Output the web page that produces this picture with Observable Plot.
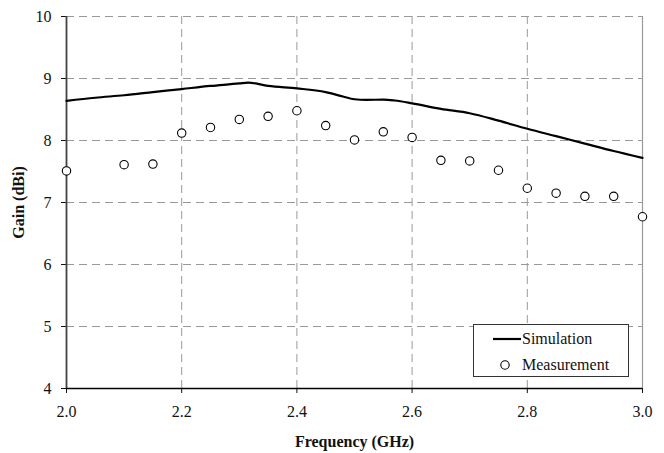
<!DOCTYPE html>
<html>
<head>
<meta charset="utf-8">
<script src="https://cdn.jsdelivr.net/npm/d3@7"></script>
<script src="https://cdn.jsdelivr.net/npm/@observablehq/plot@0.6"></script>
<style>
  html, body { margin: 0; padding: 0; background: #fff; }
  #wrap { position: relative; width: 664px; height: 453px; font-family: "Liberation Serif", "DejaVu Serif", serif; }
  #wrap svg text { font-family: "Liberation Serif", "DejaVu Serif", serif; }
  #legend { position: absolute; left: 473px; top: 324px; width: 156px; height: 53px; border: 1px solid #333; background: #fff; box-sizing: border-box; font-size: 16px; color: #111; }
  #legend .row { position: absolute; left: 0; height: 20px; display: flex; align-items: center; }
  #legend svg { display: block; }
</style>
</head>
<body>
<div id="wrap"></div>
<script>
// Measurement points (GHz, dBi)
const measFreq = [2.0, 2.1, 2.15, 2.2, 2.25, 2.3, 2.35, 2.4, 2.45, 2.5, 2.55, 2.6, 2.65, 2.7, 2.75, 2.8, 2.85, 2.9, 2.95, 3.0];
const measGain = [7.51, 7.61, 7.62, 8.12, 8.21, 8.34, 8.39, 8.48, 8.24, 8.01, 8.14, 8.05, 7.68, 7.67, 7.52, 7.23, 7.15, 7.10, 7.10, 6.77];
// Simulation curve
const simFreq = [2.0, 2.05, 2.1, 2.15, 2.2, 2.25, 2.3, 2.315, 2.35, 2.4, 2.45, 2.48, 2.5, 2.52, 2.55, 2.57, 2.6, 2.65, 2.7, 2.75, 2.8, 2.85, 2.9, 2.95, 3.0];
const simGain = [8.64, 8.69, 8.73, 8.78, 8.83, 8.88, 8.92, 8.935, 8.88, 8.84, 8.78, 8.71, 8.665, 8.655, 8.66, 8.645, 8.60, 8.51, 8.44, 8.32, 8.19, 8.07, 7.95, 7.83, 7.72];
// Ticks
const xTicks = [2.0, 2.2, 2.4, 2.6, 2.8, 3.0];
const yTicks = [4, 5, 6, 7, 8, 9, 10];
const seriesNames = ["Simulation", "Measurement"];

const meas = measFreq.map((f, i) => ({f, g: measGain[i]}));
const sim = simFreq.map((f, i) => ({f, g: simGain[i]}));

const chart = Plot.plot({
  width: 664,
  height: 453,
  marginLeft: 66,
  marginRight: 22,
  marginTop: 16,
  marginBottom: 65,
  style: "font-family: 'Liberation Serif', 'DejaVu Serif', serif; font-size: 16px; color: #111; background: #fff;",
  x: { domain: [2, 3] },
  y: { domain: [4, 10] },
  marks: [
    Plot.gridX(xTicks.filter(d => d > 2 && d < 3), { stroke: "#999", strokeOpacity: 1, strokeDasharray: "8,5", strokeWidth: 1 }),
    Plot.gridY(yTicks.filter(d => d > 4), { stroke: "#999", strokeOpacity: 1, strokeDasharray: "8,5", strokeWidth: 1 }),
    Plot.ruleX([3], { stroke: "#999", strokeWidth: 1.2 }),
    Plot.axisX({ ticks: xTicks, tickFormat: d3.format(".1f"), tickSize: 5, tickPadding: 12, fontSize: 16,
      label: "Frequency (GHz)", labelAnchor: "center", labelArrow: "none", labelOffset: 58 }),
    Plot.axisY({ ticks: yTicks, tickFormat: d3.format("d"), tickSize: 5, tickPadding: 10, fontSize: 16,
      label: "Gain (dBi)", labelAnchor: "center", labelArrow: "none", labelOffset: 54 }),
    Plot.ruleX([2], { stroke: "#444", strokeWidth: 1.8 }),
    Plot.ruleY([4], { stroke: "#000", strokeWidth: 1.5 }),
    Plot.line(sim, { x: "f", y: "g", stroke: "#000", strokeWidth: 2.2, curve: "monotone-x" }),
    Plot.dot(meas, { x: "f", y: "g", r: 4.2, stroke: "#000", strokeWidth: 1.1, fill: "#fff" })
  ]
});

// bold axis titles
d3.select(chart).selectAll("g[aria-label='x-axis label'] text, g[aria-label='y-axis label'] text")
  .style("font-weight", "bold").style("font-size", "16px");

const wrap = document.getElementById("wrap");
wrap.appendChild(chart);

const legend = document.createElement("div");
legend.id = "legend";
legend.innerHTML =
  `<div class="row" style="top:4px;left:19px"><svg width="29" height="20"><line x1="0" y1="10" x2="28" y2="10" stroke="#000" stroke-width="2.2"/></svg><span>${seriesNames[0]}</span></div>` +
  `<div class="row" style="top:30px;left:24px"><svg width="24" height="20"><circle cx="7" cy="10" r="4.2" fill="#fff" stroke="#000" stroke-width="1.1"/></svg><span>${seriesNames[1]}</span></div>`;
wrap.appendChild(legend);
</script>
</body>
</html>
